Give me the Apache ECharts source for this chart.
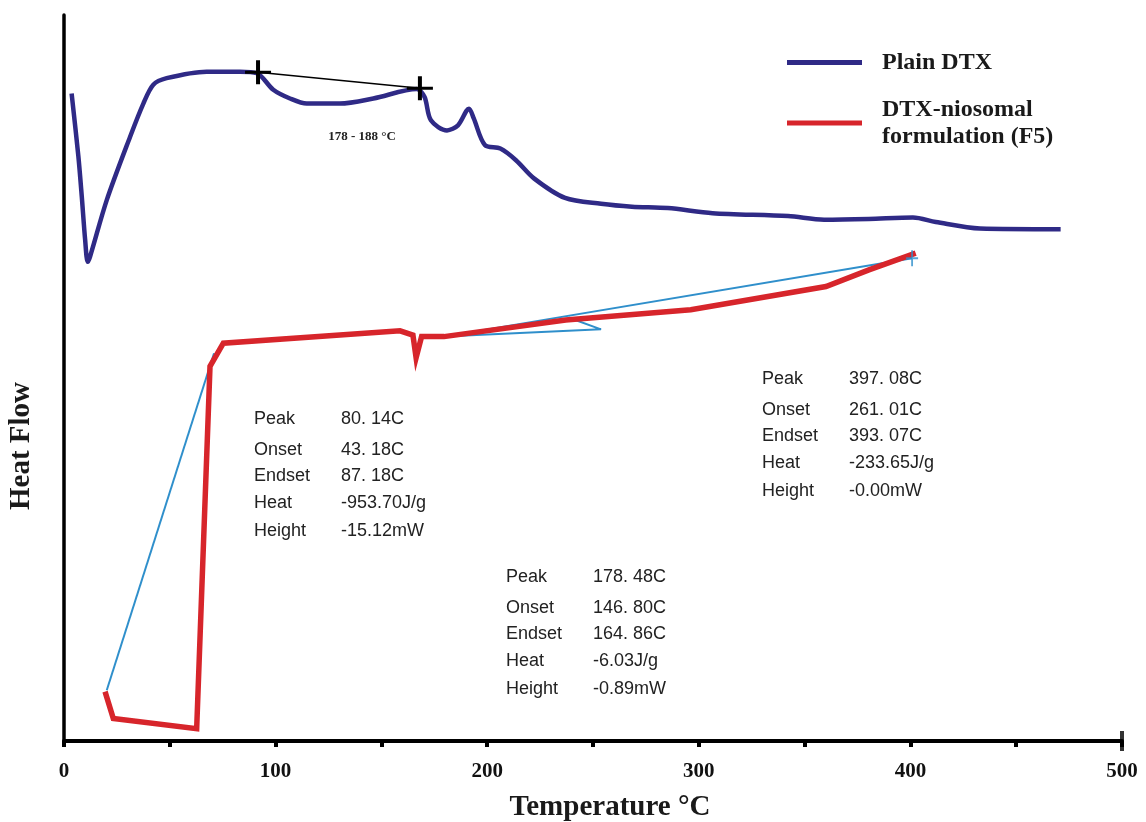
<!DOCTYPE html>
<html>
<head>
<meta charset="utf-8">
<script src="https://cdn.jsdelivr.net/npm/echarts@6/dist/echarts.min.js"></script>
<style>html,body{margin:0;padding:0;background:#fff}#c{width:1146px;height:822px}</style>
</head>
<body>
<div id="c"></div>
<script>
// Plain DTX curve (temperature °C, heat flow arbitrary units)
const plainT = [3.6, 6.8, 8.4, 10.0, 11.2, 12.3, 20.2, 31.2, 37.5, 42.2, 48.5, 67.4, 83.2, 91.1, 98.9, 106.8, 114.7, 130.4, 146.2, 166.7, 170.4, 173.4, 181.0, 186.2, 191.4, 193.6, 198.9, 206.2, 213.6, 222.1, 236.8, 253.8, 268.4, 285.4, 306.5, 342.2, 359.2, 380.3, 401.2, 412.0, 432.9, 471.0];
const plainHF = [89.2, 80.5, 75.0, 69.0, 66.0, 66.7, 74.5, 83.2, 87.8, 90.4, 91.3, 92.2, 92.2, 92.0, 89.7, 88.5, 87.8, 87.8, 88.5, 89.8, 88.7, 85.5, 84.1, 84.8, 87.1, 85.8, 82.1, 81.6, 80.0, 77.5, 74.8, 74.0, 73.6, 73.4, 72.7, 72.3, 71.8, 71.9, 72.1, 71.5, 70.6, 70.5];
// DTX-niosomal formulation (F5)
const nioT = [19.4, 23.3, 62.7, 69.0, 75.3, 158.8, 164.9, 166.4, 169.0, 179.6, 237.1, 296.2, 360.1, 380.4, 402.5];
const nioHF = [6.8, 3.1, 1.7, 51.6, 54.8, 56.5, 55.9, 52.8, 55.7, 55.7, 58.0, 59.4, 62.6, 64.9, 67.2];
// analysis baselines (thin blue)
const base1T = [20.2, 70.9];
const base1HF = [7.0, 53.4];
const base2T = [400.8, 179.6, 253.8, 238.7];
const base2HF = [66.5, 55.7, 56.7, 58.3];
// tangent markers on plain DTX
const tangT = [91.7, 168.2];
const tangHF = [92.1, 89.9];
// x-axis ticks
const xMin = 0, xMax = 500, xStep = 50, xLabelStep = 100;
// annotation texts
const annLabels = ['Peak', 'Onset', 'Endset', 'Heat', 'Height'];
const ann1 = ['80. 14C', '43. 18C', '87. 18C', '-953.70J/g', '-15.12mW'];
const ann2 = ['178. 48C', '146. 80C', '164. 86C', '-6.03J/g', '-0.89mW'];
const ann3 = ['397. 08C', '261. 01C', '393. 07C', '-233.65J/g', '-0.00mW'];
const rangeText = '178 - 188 °C';
const seriesNames = ['Plain DTX', 'DTX-niosomal\nformulation (F5)'];

const NAVY = '#2f2a86', RED = '#d7252b', CYAN = '#2f8fcb';
const zip = (a, b) => a.map((v, i) => [v, b[i]]);

const rowOff = [0, 31, 57, 84, 112];
function block(labels, vals, x, y, gap) {
  const out = [];
  labels.forEach((l, i) => {
    out.push({type: 'text', x: x, y: y + rowOff[i], style: {text: l, fill: '#222', font: '18px "Liberation Sans", Arial, sans-serif', textVerticalAlign: 'middle'}});
    out.push({type: 'text', x: x + gap, y: y + rowOff[i], style: {text: vals[i], fill: '#222', font: '18px "Liberation Sans", Arial, sans-serif', textVerticalAlign: 'middle'}});
  });
  return out;
}

const cross = 'path://M-2,-12 L2,-12 L2,-1.5 L13,-1.5 L13,1.5 L2,1.5 L2,12 L-2,12 L-2,1.5 L-13,1.5 L-13,-1.5 L-2,-1.5 Z';
const SERIF = '"Liberation Serif", "Times New Roman", serif';

const chart = echarts.init(document.getElementById('c'), null, {renderer: 'canvas'});
chart.setOption({
  animation: false,
  backgroundColor: '#fff',
  grid: {left: 64, right: 24, top: 15, bottom: 81, containLabel: false, outerBoundsMode: 'none'},
  legend: {
    data: seriesNames,
    orient: 'vertical',
    left: 787, top: 49,
    itemWidth: 75, itemHeight: 5, itemGap: 20,
    icon: 'rect',
    padding: 0,
    textStyle: {fontFamily: SERIF, fontWeight: 'bold', fontSize: 24, lineHeight: 27, color: '#1a1a1a', padding: [0, 0, 0, 15]}
  },
  xAxis: {
    type: 'value', min: xMin, max: xMax, interval: xStep,
    name: 'Temperature °C', nameLocation: 'middle', nameGap: 52,
    nameTextStyle: {fontFamily: SERIF, fontWeight: 'bold', fontSize: 29, color: '#1a1a1a', padding: [0, 0, 0, 34]},
    axisLine: {show: true, onZero: false, lineStyle: {color: '#000', width: 4}},
    axisTick: {show: true, length: 6, lineStyle: {color: '#000', width: 4}},
    axisLabel: {
      margin: 20, fontFamily: SERIF, fontWeight: 'bold', fontSize: 21, color: '#111',
      formatter: v => (v % xLabelStep === 0 ? String(v) : '')
    },
    splitLine: {show: false}
  },
  yAxis: {
    type: 'value', min: 0, max: 100,
    axisLine: {show: true, onZero: false, lineStyle: {color: '#000', width: 3.5}},
    axisTick: {show: false}, axisLabel: {show: false}, splitLine: {show: false}
  },
  graphic: [
    {type: 'text', x: 22, y: 446, rotation: Math.PI / 2,
     style: {text: 'Heat Flow', fill: '#1a1a1a', font: 'bold 29px ' + SERIF, textAlign: 'center', textVerticalAlign: 'middle'}},
    {type: 'text', x: 362, y: 137,
     style: {text: rangeText, fill: '#222', font: 'bold 13px ' + SERIF, textAlign: 'center', textVerticalAlign: 'middle'}}
  ].concat(block(annLabels, ann1, 254, 419, 87))
   .concat(block(annLabels, ann2, 506, 577, 87))
   .concat(block(annLabels, ann3, 762, 379, 87)),
  series: [
    {name: 'base1', type: 'line', data: zip(base1T, base1HF), showSymbol: false, lineStyle: {color: CYAN, width: 2}, z: 2},
    {name: 'base2', type: 'line', data: zip(base2T, base2HF), showSymbol: false, lineStyle: {color: CYAN, width: 2}, z: 2},
    {name: seriesNames[1], type: 'line', data: zip(nioT, nioHF), showSymbol: false, color: RED,
     lineStyle: {color: RED, width: 5.5, join: 'miter'}, z: 3},
    {name: seriesNames[0], type: 'line', data: zip(plainT, plainHF), showSymbol: false, smooth: 0.3, color: NAVY,
     lineStyle: {color: NAVY, width: 4.5}, z: 3},
    {name: 'tangent', type: 'line', data: zip(tangT, tangHF), symbol: cross, symbolSize: [26, 24], showSymbol: true,
     itemStyle: {color: '#000'}, lineStyle: {color: '#000', width: 1.5}, z: 5},
    {name: 'baseEnd', type: 'scatter', data: [[base2T[0], base2HF[0]]], symbol: cross, symbolSize: [12, 16],
     itemStyle: {color: CYAN}, z: 4},
    {name: 'axisEnd', type: 'scatter', data: [[xMax, 0]], symbol: 'rect', symbolSize: [4, 20], clip: false,
     itemStyle: {color: '#000'}, z: 6}
  ]
});
</script>
</body>
</html>
